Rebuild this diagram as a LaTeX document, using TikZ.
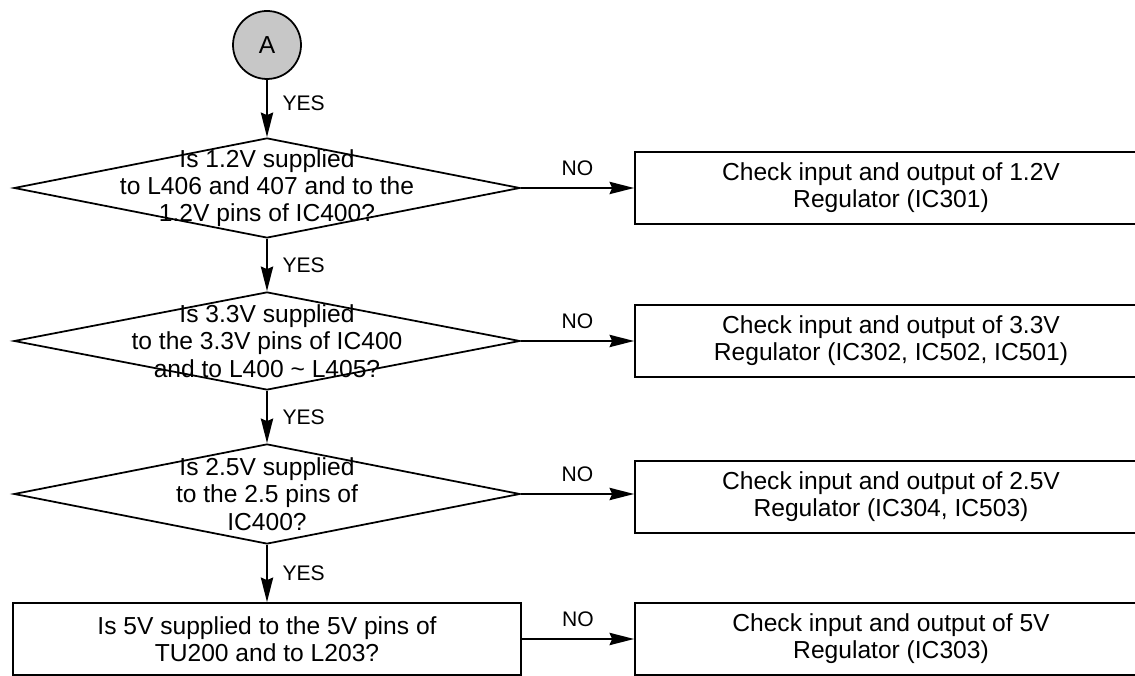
\documentclass[tikz,border=0pt]{standalone}
\usepackage{fontspec}
\setmainfont{Liberation Sans}
\usetikzlibrary{shapes.geometric,arrows.meta}

\begin{document}
\begin{tikzpicture}[
  question/.style={draw, diamond, inner sep=0pt, minimum width=10.12cm, minimum height=2cm, line width=1pt},
  qtext/.style={align=center, font=\fontsize{14}{15.5}\selectfont},
  qbox/.style={draw, rectangle, align=center, minimum width=10.16cm, minimum height=1.44cm, line width=1pt, font=\fontsize{14}{15.5}\selectfont},
  checkbox/.style={qbox, minimum width=10.24cm},
  flow/.style={-{Stealth[length=14pt,width=7pt,inset=1.5pt]}, line width=1.1pt},
  ans/.style={font=\fontsize{12}{14}\selectfont}
]
\useasboundingbox (0,0) rectangle (22.7,13.52);
\clip (0,0) rectangle (22.7,13.52);

\node[draw, circle, fill=black!22, minimum size=1.36cm, inner sep=0pt, line width=1pt, font=\fontsize{14}{16}\selectfont] (start) at (5.34,12.62) {A};

\node[question, label={[qtext]center:{Is 1.2V supplied\\to L406 and 407 and to the\\1.2V pins of IC400?}}] (q1) at (5.34,9.76) {};
\node[question, minimum height=1.96cm, label={[qtext]center:{Is 3.3V supplied\\to the 3.3V pins of IC400\\and to L400 \textasciitilde\ L405?}}] (q2) at (5.34,6.70) {};
\node[question, label={[qtext]center:{Is 2.5V supplied\\to the 2.5 pins of\\IC400?}}] (q3) at (5.34,3.64) {};
\node[qbox] (q4) at (5.34,0.74) {Is 5V supplied to the 5V pins of\\TU200 and to L203?};

\node[checkbox] (c1) at (17.82,9.76) {Check input and output of 1.2V\\Regulator (IC301)};
\node[checkbox] (c2) at (17.82,6.70) {Check input and output of 3.3V\\Regulator (IC302, IC502, IC501)};
\node[checkbox] (c3) at (17.82,3.58) {Check input and output of 2.5V\\Regulator (IC304, IC503)};
\node[checkbox] (c4) at (17.82,0.74) {Check input and output of 5V\\Regulator (IC303)};

\draw[flow] (start) -- node[ans, right=5pt, yshift=3pt] {YES} (q1);
\draw[flow] (q1) -- node[ans, right=5pt] {YES} (q2);
\draw[flow] (q2) -- node[ans, right=5pt] {YES} (q3);
\draw[flow] (q3) -- node[ans, right=5pt] {YES} (q4);

\draw[flow] (q1) -- node[ans, above=3pt] {NO} (c1);
\draw[flow] (q2) -- node[ans, above=3pt] {NO} (c2);
\draw[flow] (q3.east) -- node[ans, above=3pt] {NO} (q3.east -| c3.west);
\draw[flow] (q4) -- node[ans, above=3pt] {NO} (c4);
\end{tikzpicture}
\end{document}
